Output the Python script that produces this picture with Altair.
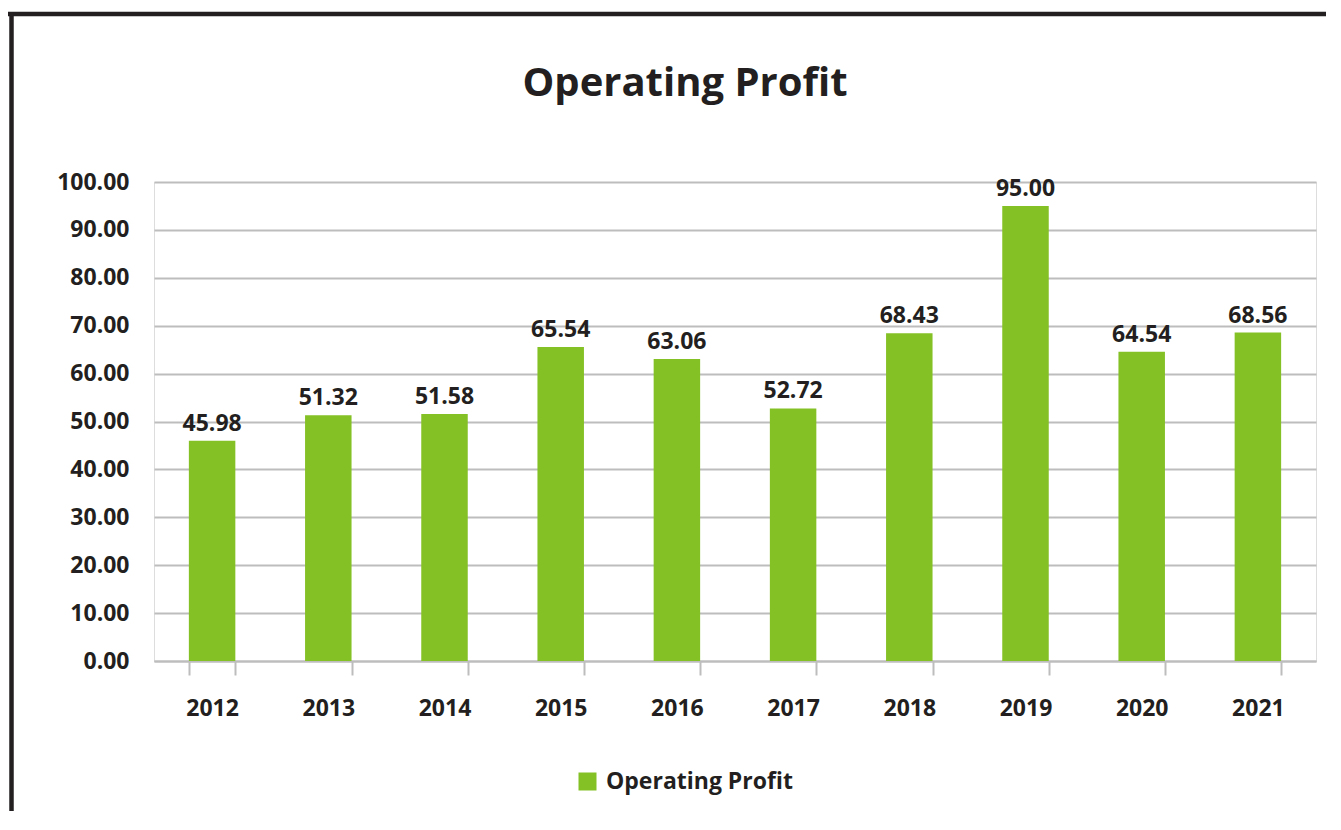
import altair as alt
import pandas as pd

years = ["2012", "2013", "2014", "2015", "2016", "2017", "2018", "2019", "2020", "2021"]
profit = [45.98, 51.32, 51.58, 65.54, 63.06, 52.72, 68.43, 95.00, 64.54, 68.56]
series = "Operating Profit"
chart_title = "Operating Profit"

df = pd.DataFrame({"year": years, "value": profit, "series": [series] * len(years)})

FONT = "Open Sans"
GREEN = "#84C124"
DARK = "#231F20"
GRID = "#BDBDBD"

x = alt.X("year:N", sort=years, title=None,
          scale=alt.Scale(paddingInner=0.6, paddingOuter=0.3),
          axis=alt.Axis(labelAngle=0, labelFont=FONT, labelFontSize=23, labelFontWeight="bold",
                        labelColor=DARK, domainColor=GRID, domainWidth=2, tickColor=GRID,
                        tickWidth=2, tickSize=14, tickBand="extent", labelPadding=22, grid=False))
y = alt.Y("value:Q", title=None,
          scale=alt.Scale(domain=[0, 100], nice=False),
          axis=alt.Axis(values=list(range(0, 101, 10)), format=".2f", labelFont=FONT,
                        labelFontSize=23, labelFontWeight="bold", labelColor=DARK,
                        domain=False, ticks=False, tickSize=0, labelPadding=25,
                        gridColor=GRID, gridWidth=2))

base = alt.Chart(df)

bars = base.mark_bar(color=GREEN).encode(
    x=x, y=y,
    color=alt.Color("series:N", title=None,
                    scale=alt.Scale(domain=[series], range=[GREEN]),
                    legend=alt.Legend(orient="none", legendX=422, legendY=588,
                                      symbolType="square", symbolSize=324,
                                      symbolStrokeWidth=0, labelFont=FONT,
                                      labelFontSize=23, labelFontWeight="bold",
                                      labelColor=DARK, labelOffset=7, padding=0,
                                      labelLimit=0)),
)

labels = base.mark_text(font=FONT, fontSize=23, fontWeight="bold", color=DARK,
                        baseline="alphabetic", dy=-10).encode(
    x=alt.X("year:N", sort=years),
    y="value:Q",
    text=alt.Text("value:Q", format=".2f"),
)

title_df = pd.DataFrame({"t": [chart_title]})
title = alt.Chart(title_df).mark_text(font=FONT, fontSize=40, fontWeight="bold", color=DARK,
                                      baseline="alphabetic", align="center").encode(
    text="t:N", x=alt.value(531), y=alt.value(-86))

one = pd.DataFrame({"k": [0]})
frame_top = alt.Chart(one).mark_rule(color=DARK, strokeWidth=4.5).encode(
    x=alt.value(-146), x2=alt.value(1200), y=alt.value(-168))
frame_left = alt.Chart(one).mark_rule(color=DARK, strokeWidth=4.5).encode(
    x=alt.value(-142.5), y=alt.value(-170), y2=alt.value(700))

chart = alt.layer(bars, labels, title, frame_top, frame_left).properties(
    width=1162, height=479,
    autosize=alt.AutoSizeParams(type="none"),
    padding={"left": 146, "top": 174, "right": 10, "bottom": 150},
).configure_view(stroke=None).configure(background="white")

chart.save("out.html", embed_options={"renderer": "svg", "actions": False})
